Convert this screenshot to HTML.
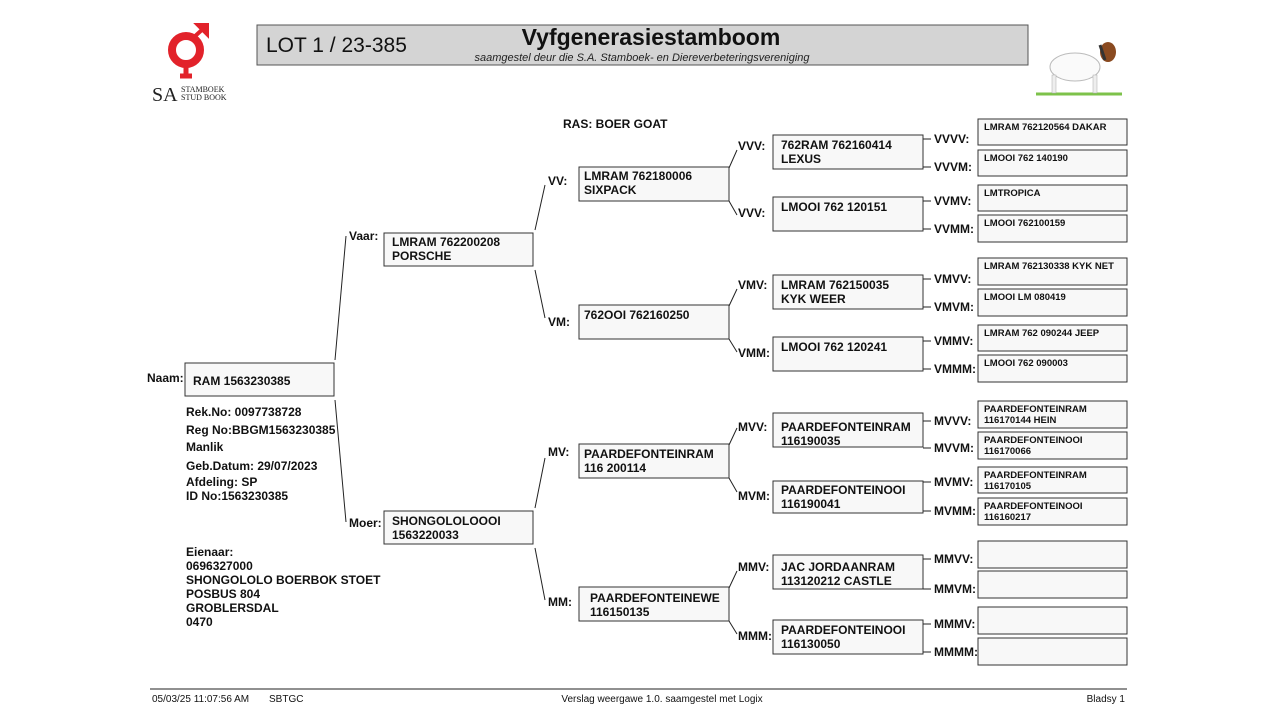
<!DOCTYPE html>
<html><head><meta charset="utf-8"><style>
body{margin:0;background:#fff;}
svg{display:block;font-family:"Liberation Sans",Arial,sans-serif;}
.b{fill:#f8f8f8;stroke:#333;stroke-width:1;}
.t{font-size:12px;font-weight:bold;fill:#111;}
.s{font-size:9.5px;font-weight:bold;fill:#111;}
.l{font-size:12px;font-weight:bold;fill:#111;}
.ln{stroke:#222;stroke-width:1;fill:none;}
</style></head><body>
<svg width="1280" height="720" viewBox="0 0 1280 720">
<!-- logo -->
<g fill="none" stroke="#e2222a" stroke-width="8">
<circle cx="186" cy="50" r="14"/>
</g>
<path d="M186 64 L186 76 M180 76 L192 76" stroke="#e2222a" stroke-width="5"/>
<path d="M193 38 L204 28 M198 25 L207 25 L207 34 Z" stroke="#e2222a" stroke-width="4" fill="#e2222a"/>
<text x="152" y="101" font-family="Liberation Serif,serif" font-size="20" fill="#222">SA</text>
<text x="181" y="92" font-family="Liberation Serif,serif" font-size="8" fill="#222">STAMBOEK</text>
<text x="181" y="100" font-family="Liberation Serif,serif" font-size="8" fill="#222">STUD BOOK</text>
<!-- header -->
<rect x="257" y="25" width="771" height="40" fill="#d4d4d4" stroke="#555"/>
<text x="266" y="52" font-size="21" fill="#111">LOT 1 / 23-385</text>
<text x="651" y="45" font-size="23" font-weight="bold" text-anchor="middle" fill="#111">Vyfgenerasiestamboom</text>
<text x="642" y="61" font-size="11" font-style="italic" text-anchor="middle" fill="#222">saamgestel deur die S.A. Stamboek- en Diereverbeteringsvereniging</text>
<!-- goat -->
<path d="M1036 94 L1122 94" stroke="#7dc24a" stroke-width="3"/>
<ellipse cx="1075" cy="67" rx="25" ry="14" fill="#fafafa" stroke="#bbb"/>
<rect x="1052" y="75" width="4" height="18" fill="#eee" stroke="#aaa" stroke-width=".5"/>
<rect x="1093" y="75" width="4" height="18" fill="#eee" stroke="#aaa" stroke-width=".5"/>
<ellipse cx="1108" cy="52" rx="8" ry="10" fill="#8a4a20"/>
<path d="M1100 45 L1105 60" stroke="#333" stroke-width="3"/>
<text x="563" y="128" class="t">RAS: BOER GOAT</text>
<!-- gen0 -->
<rect class="b" x="185" y="363" width="149" height="33"/>
<text x="193" y="385" class="t">RAM 1563230385</text>
<text x="147" y="382" class="l">Naam:</text>
<g class="t"><text x="186" y="416">Rek.No: 0097738728</text><text x="186" y="434">Reg No:BBGM1563230385</text><text x="186" y="451">Manlik</text><text x="186" y="470">Geb.Datum: 29/07/2023</text><text x="186" y="486">Afdeling: SP</text><text x="186" y="500">ID No:1563230385</text>
<text x="186" y="556">Eienaar:</text><text x="186" y="570">0696327000</text><text x="186" y="584">SHONGOLOLO BOERBOK STOET</text><text x="186" y="598">POSBUS 804</text><text x="186" y="612">GROBLERSDAL</text><text x="186" y="626">0470</text></g>
<path class="ln" d="M335 360 L346 236 M335 400 L346 522"/>
<!-- gen1 -->
<rect class="b" x="384" y="233" width="149" height="33"/>
<text x="392" y="246" class="t">LMRAM 762200208</text><text x="392" y="260" class="t">PORSCHE</text>
<text x="349" y="240" class="l">Vaar:</text>
<rect class="b" x="384" y="511" width="149" height="33"/>
<text x="392" y="525" class="t">SHONGOLOLOOOI</text><text x="392" y="539" class="t">1563220033</text>
<text x="349" y="527" class="l">Moer:</text>
<path class="ln" d="M535 230 L545 185 M535 270 L545 318 M535 508 L545 458 M535 548 L545 600"/>
<!-- gen2 -->
<g>
<rect class="b" x="579" y="167" width="150" height="34"/>
<text x="584" y="180" class="t">LMRAM 762180006</text><text x="584" y="194" class="t">SIXPACK</text>
<text x="548" y="185" class="l">VV:</text>
<rect class="b" x="579" y="305" width="150" height="34"/>
<text x="584" y="319" class="t">762OOI 762160250</text>
<text x="548" y="326" class="l">VM:</text>
<rect class="b" x="579" y="444" width="150" height="34"/>
<text x="584" y="458" class="t">PAARDEFONTEINRAM</text><text x="584" y="472" class="t">116 200114</text>
<text x="548" y="456" class="l">MV:</text>
<rect class="b" x="579" y="587" width="150" height="34"/>
<text x="590" y="602" class="t">PAARDEFONTEINEWE</text><text x="590" y="616" class="t">116150135</text>
<text x="548" y="606" class="l">MM:</text>
</g>
<path class="ln" d="M729 168 L737 150 M729 201 L737 215 M729 306 L737 289 M729 339 L737 352 M729 445 L737 428 M729 478 L737 492 M729 588 L737 571 M729 621 L737 634"/>
<!-- gen3 -->
<g>
<rect class="b" x="773" y="135" width="150" height="34"/><text x="781" y="149" class="t">762RAM 762160414</text><text x="781" y="163" class="t">LEXUS</text><text x="738" y="150" class="l">VVV:</text>
<rect class="b" x="773" y="197" width="150" height="34"/><text x="781" y="211" class="t">LMOOI 762 120151</text><text x="738" y="217" class="l">VVV:</text>
<rect class="b" x="773" y="275" width="150" height="34"/><text x="781" y="289" class="t">LMRAM 762150035</text><text x="781" y="303" class="t">KYK WEER</text><text x="738" y="289" class="l">VMV:</text>
<rect class="b" x="773" y="337" width="150" height="34"/><text x="781" y="351" class="t">LMOOI 762 120241</text><text x="738" y="357" class="l">VMM:</text>
<rect class="b" x="773" y="413" width="150" height="34"/><text x="781" y="431" class="t">PAARDEFONTEINRAM</text><text x="781" y="445" class="t">116190035</text><text x="738" y="431" class="l">MVV:</text>
<rect class="b" x="773" y="481" width="150" height="32"/><text x="781" y="494" class="t">PAARDEFONTEINOOI</text><text x="781" y="508" class="t">116190041</text><text x="738" y="500" class="l">MVM:</text>
<rect class="b" x="773" y="555" width="150" height="34"/><text x="781" y="571" class="t">JAC JORDAANRAM</text><text x="781" y="585" class="t">113120212 CASTLE</text><text x="738" y="571" class="l">MMV:</text>
<rect class="b" x="773" y="620" width="150" height="34"/><text x="781" y="634" class="t">PAARDEFONTEINOOI</text><text x="781" y="648" class="t">116130050</text><text x="738" y="640" class="l">MMM:</text>
</g>
<!-- gen4 connectors & labels -->
<path class="ln" d="M923 139 L931 139 M923 167 L931 167 M923 201 L931 201 M923 229 L931 229 M923 279 L931 279 M923 307 L931 307 M923 341 L931 341 M923 369 L931 369 M923 421 L931 421 M923 448 L931 448 M923 482 L931 482 M923 511 L931 511 M923 559 L931 559 M923 589 L931 589 M923 624 L931 624 M923 652 L931 652"/>
<g class="l">
<text x="934" y="143">VVVV:</text><text x="934" y="171">VVVM:</text><text x="934" y="205">VVMV:</text><text x="934" y="233">VVMM:</text>
<text x="934" y="283">VMVV:</text><text x="934" y="311">VMVM:</text><text x="934" y="345">VMMV:</text><text x="934" y="373">VMMM:</text>
<text x="934" y="425">MVVV:</text><text x="934" y="452">MVVM:</text><text x="934" y="486">MVMV:</text><text x="934" y="515">MVMM:</text>
<text x="934" y="563">MMVV:</text><text x="934" y="593">MMVM:</text><text x="934" y="628">MMMV:</text><text x="934" y="656">MMMM:</text>
</g>
<g>
<rect class="b" x="978" y="119" width="149" height="26"/><text x="984" y="130" class="s">LMRAM 762120564  DAKAR</text>
<rect class="b" x="978" y="150" width="149" height="26"/><text x="984" y="161" class="s">LMOOI 762 140190</text>
<rect class="b" x="978" y="185" width="149" height="26"/><text x="984" y="196" class="s">LMTROPICA</text>
<rect class="b" x="978" y="215" width="149" height="27"/><text x="984" y="226" class="s">LMOOI 762100159</text>
<rect class="b" x="978" y="258" width="149" height="27"/><text x="984" y="269" class="s">LMRAM 762130338 KYK NET</text>
<rect class="b" x="978" y="289" width="149" height="27"/><text x="984" y="300" class="s">LMOOI LM 080419</text>
<rect class="b" x="978" y="325" width="149" height="26"/><text x="984" y="336" class="s">LMRAM 762 090244 JEEP</text>
<rect class="b" x="978" y="355" width="149" height="27"/><text x="984" y="366" class="s">LMOOI 762 090003</text>
<rect class="b" x="978" y="401" width="149" height="27"/><text x="984" y="412" class="s">PAARDEFONTEINRAM</text><text x="984" y="423" class="s">116170144 HEIN</text>
<rect class="b" x="978" y="432" width="149" height="27"/><text x="984" y="443" class="s">PAARDEFONTEINOOI</text><text x="984" y="454" class="s">116170066</text>
<rect class="b" x="978" y="467" width="149" height="26"/><text x="984" y="478" class="s">PAARDEFONTEINRAM</text><text x="984" y="489" class="s">116170105</text>
<rect class="b" x="978" y="498" width="149" height="27"/><text x="984" y="509" class="s">PAARDEFONTEINOOI</text><text x="984" y="520" class="s">116160217</text>
<rect class="b" x="978" y="541" width="149" height="27"/>
<rect class="b" x="978" y="571" width="149" height="27"/>
<rect class="b" x="978" y="607" width="149" height="27"/>
<rect class="b" x="978" y="638" width="149" height="27"/>
</g>
<!-- footer -->
<line x1="150" y1="689" x2="1127" y2="689" stroke="#222"/>
<g font-size="10" fill="#111"><text x="152" y="702">05/03/25 11:07:56 AM</text><text x="269" y="702">SBTGC</text><text x="662" y="702" text-anchor="middle">Verslag weergawe 1.0. saamgestel met Logix</text><text x="1125" y="702" text-anchor="end">Bladsy 1</text></g>
</svg>
</body></html>
